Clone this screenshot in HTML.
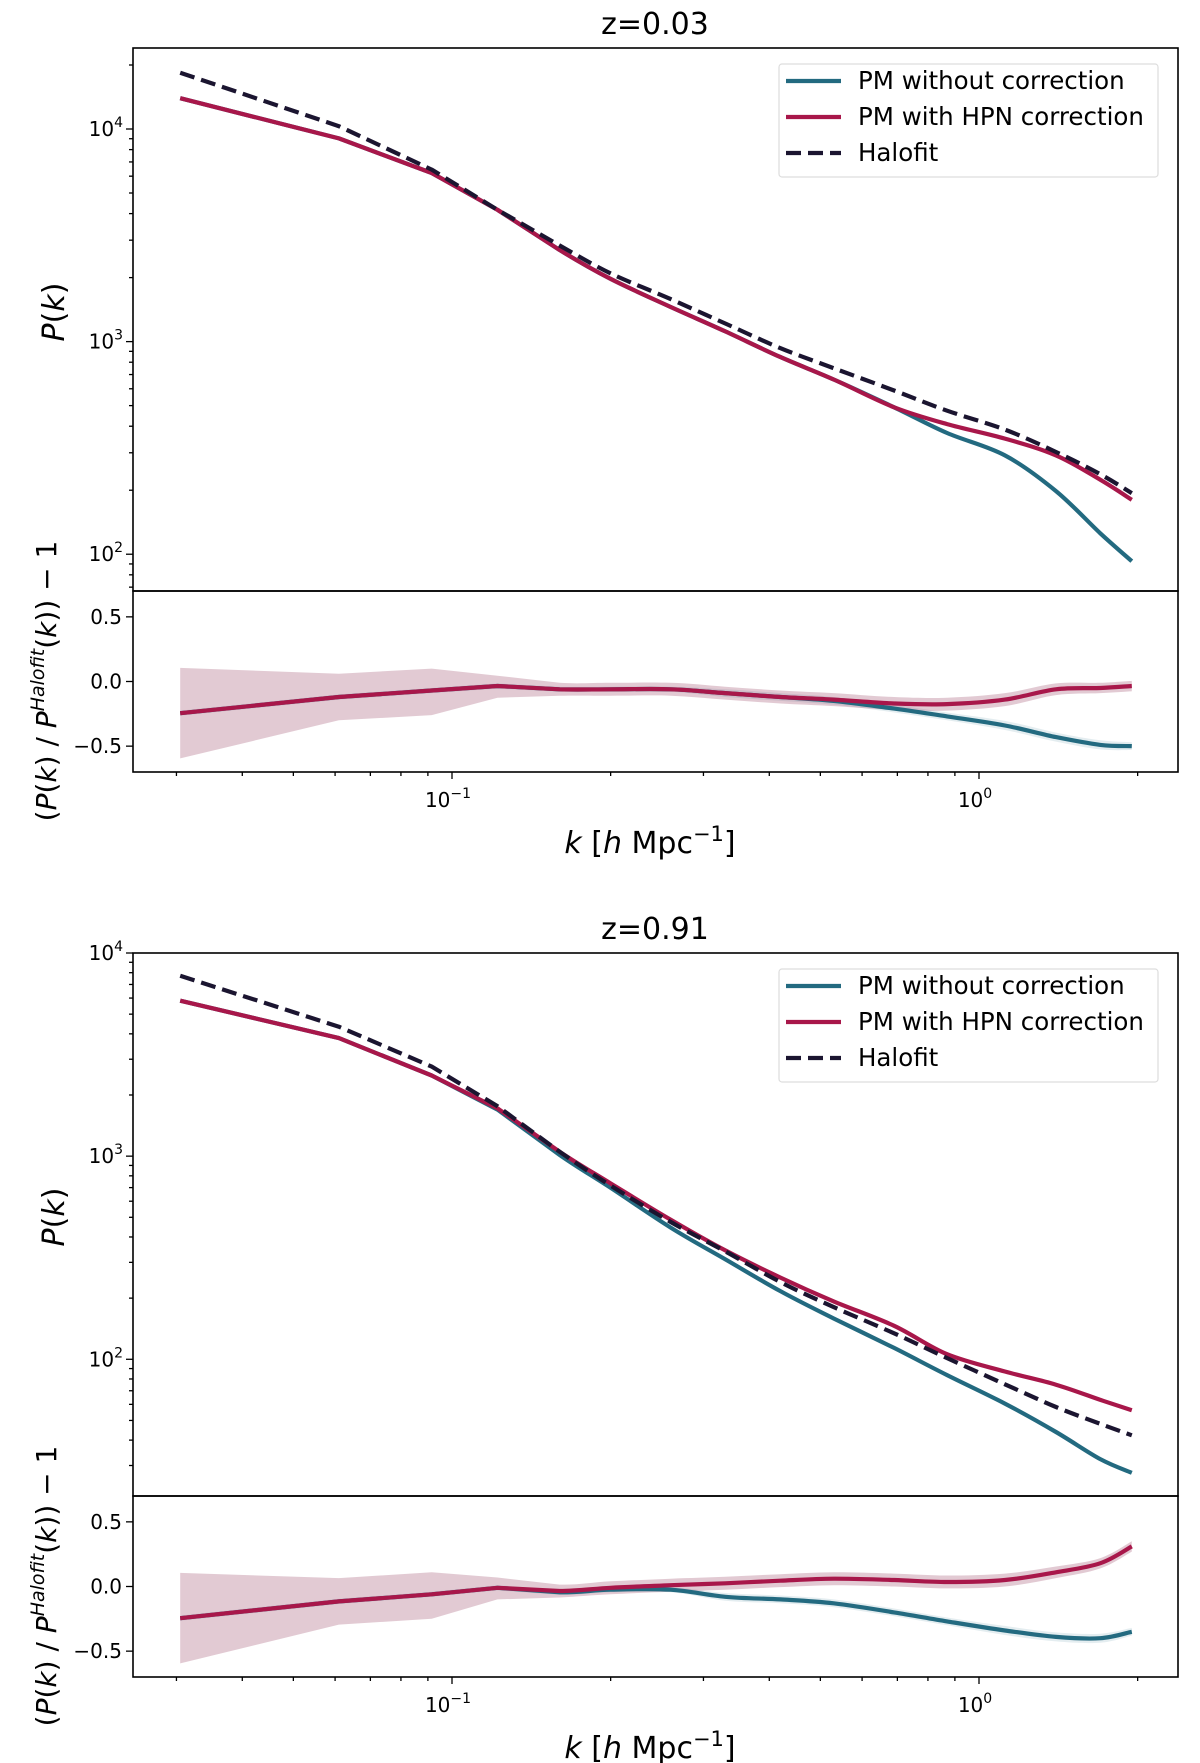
<!DOCTYPE html>
<html><head><meta charset="utf-8"><style>
html,body{margin:0;padding:0;background:#fff;}
svg{display:block;font-family:"DejaVu Sans","Liberation Sans",sans-serif;}
</style></head><body>
<svg id="fig" width="1200" height="1763" viewBox="0 0 1200 1763" xmlns="http://www.w3.org/2000/svg"></svg>
<script>
// shared k grid
const kValues = [0.0305,0.061,0.0915,0.122,0.16,0.2,0.26,0.33,0.42,0.53,0.69,0.87,1.12,1.4,1.7,1.95];
// panel 1 (z=0.03) : log10 P
const p1Halofit = [4.265,4.013,3.809,3.620,3.452,3.321,3.200,3.085,2.969,2.875,2.770,2.675,2.586,2.481,2.376,2.287];
const p1HPN = [4.145,3.956,3.793,3.620,3.431,3.295,3.163,3.048,2.927,2.822,2.691,2.612,2.544,2.465,2.350,2.256];
const p1PM = [4.145,3.956,3.793,3.620,3.431,3.295,3.163,3.048,2.927,2.822,2.691,2.570,2.465,2.297,2.098,1.967];
const r1HPN = [-0.245,-0.12,-0.07,-0.035,-0.06,-0.06,-0.06,-0.09,-0.12,-0.14,-0.17,-0.175,-0.14,-0.06,-0.05,-0.035];
const r1PM = [-0.245,-0.12,-0.07,-0.035,-0.06,-0.06,-0.06,-0.09,-0.12,-0.15,-0.21,-0.27,-0.34,-0.43,-0.49,-0.5];
// panel 2 (z=0.91)
const p2Halofit = [3.888,3.637,3.441,3.246,3.022,2.855,2.676,2.531,2.380,2.257,2.128,2.006,1.877,1.765,1.682,1.626];
const p2HPN = [3.765,3.581,3.397,3.235,3.022,2.866,2.687,2.536,2.402,2.285,2.165,2.025,1.940,1.875,1.800,1.749];
const p2PM = [3.765,3.581,3.397,3.229,3.006,2.844,2.648,2.492,2.335,2.201,2.056,1.922,1.782,1.642,1.508,1.441];
const r2HPN = [-0.245,-0.115,-0.06,-0.01,-0.035,-0.01,0.01,0.025,0.045,0.06,0.05,0.035,0.05,0.11,0.18,0.31];
const r2PM = [-0.245,-0.115,-0.06,-0.01,-0.045,-0.025,-0.025,-0.08,-0.1,-0.13,-0.2,-0.27,-0.34,-0.39,-0.4,-0.35];
// error band half-widths
const bandUp = [0.35,0.18,0.17,0.08,0.05,0.05,0.05,0.05,0.05,0.05,0.05,0.05,0.05,0.045,0.04,0.04];
const bandDown = [0.35,0.18,0.19,0.09,0.05,0.05,0.05,0.05,0.05,0.05,0.05,0.05,0.05,0.045,0.04,0.04];
const pmBand = [0.02,0.02,0.02,0.02,0.02,0.02,0.02,0.03,0.03,0.03,0.03,0.03,0.035,0.035,0.035,0.03];
const titles = ["z=0.03","z=0.91"];

const NS="http://www.w3.org/2000/svg";
const svg=document.getElementById('fig');
function el(tag,attrs,parent){const e=document.createElementNS(NS,tag);for(const a in attrs)e.setAttribute(a,attrs[a]);(parent||svg).appendChild(e);return e;}
const X0=133,X1=1178;
const xs=k=>452+527*(Math.log10(k)+1);
const TEAL="#236a80",RED="#a8174a",DARK="#1b1530";
const LIN_X = xs(0.125); // coarse-sampled low-k region drawn straight

// path through points: straight in low-k region, Catmull-Rom smoothing beyond
function smooth(pts, start){
  let d=(start?'M':'L')+pts[0][0].toFixed(1)+' '+pts[0][1].toFixed(1);
  for(let i=0;i<pts.length-1;i++){
    const p1=pts[i],p2=pts[i+1];
    if(Math.min(p1[0],p2[0])<LIN_X){d+=' L'+p2[0].toFixed(1)+' '+p2[1].toFixed(1);continue;}
    const p0=pts[Math.max(0,i-1)],p3=pts[Math.min(pts.length-1,i+2)];
    const c1=[p1[0]+(p2[0]-p0[0])/6,p1[1]+(p2[1]-p0[1])/6];
    const c2=[p2[0]-(p3[0]-p1[0])/6,p2[1]-(p3[1]-p1[1])/6];
    d+=' C'+c1[0].toFixed(1)+' '+c1[1].toFixed(1)+' '+c2[0].toFixed(1)+' '+c2[1].toFixed(1)+' '+p2[0].toFixed(1)+' '+p2[1].toFixed(1);
  }
  return d;
}

function panel(off, ylTop, ylBot, halo, hpn, pm, rh, rp, title, idx){
  const top=48+off, mb=591+off, rb=772+off;
  const ys=lp=>top+(ylTop-lp)/(ylTop-ylBot)*(mb-top);
  const yr=v=>top+543+ (0.7-v)/1.4*(rb-mb);
  const g=el('g',{});
  
  
  const t=el('text',{x:655,y:34+off,'font-size':30,'text-anchor':'middle',fill:'#000'},g);t.textContent=title;
  
  const cid='c'+idx, rid='r'+idx;
  const cp=el('clipPath',{id:cid},g);el('rect',{x:X0,y:top,width:X1-X0,height:mb-top},cp);
  const rp2=el('clipPath',{id:rid},g);el('rect',{x:X0,y:mb,width:X1-X0,height:rb-mb},rp2);
  const line=(arr,col,dash,name)=>{const d=smooth(arr.map((v,i)=>[xs(kValues[i]),ys(v)]),true);
    const p=el('path',{d:d,fill:'none',stroke:col,'stroke-width':4.2,'clip-path':'url(#'+cid+')','stroke-linejoin':'round'},g);
    if(dash)p.setAttribute('stroke-dasharray','15 7');
    };
  line(pm,TEAL,false,'pm-without-correction-line');
  line(hpn,RED,false,'pm-hpn-correction-line');
  line(halo,DARK,true,'halofit-line');
  const band=(arr,up,dn,col,op,name)=>{let d=smooth(arr.map((v,i)=>[xs(kValues[i]),yr(v+up[i])]),true);
    const lo=[];for(let i=arr.length-1;i>=0;i--)lo.push([xs(kValues[i]),yr(arr[i]-dn[i])]);
    d+=' '+smooth(lo,false);
    const p=el('path',{d:d+' Z',fill:col,'fill-opacity':op,'clip-path':'url(#'+rid+')'},g);
    };
  band(rp,pmBand,pmBand,TEAL,0.12,'pm-ratio-band');
  band(rh,bandUp,bandDown,'#8a2a50',0.25,'hpn-ratio-band');
  const rline=(arr,col,name)=>{const d=smooth(arr.map((v,i)=>[xs(kValues[i]),yr(v)]),true);
    const p=el('path',{d:d,fill:'none',stroke:col,'stroke-width':4.2,'clip-path':'url(#'+rid+')'},g);
    };
  rline(rp,TEAL,'pm-ratio-line');
  rline(rh,RED,'hpn-ratio-line');
  el('rect',{x:X0,y:top,width:X1-X0,height:mb-top,fill:'none',stroke:'#000','stroke-width':1.6},g);
  el('rect',{x:X0,y:mb,width:X1-X0,height:rb-mb,fill:'none',stroke:'#000','stroke-width':1.6},g);
  for(let dec=1;dec<=4;dec++){for(let m=1;m<=9;m++){const lp=dec+Math.log10(m);if(lp>ylTop+1e-6||lp<ylBot)continue;const y=ys(lp);
    el('line',{x1:X0,x2:X0-(m==1?7:4),y1:y,y2:y,stroke:'#000','stroke-width':1.3},g);
    if(m==1){const tx=el('text',{x:X0-10,y:y+7,'font-size':20,'text-anchor':'end'},g);tx.innerHTML='10<tspan font-size="14" dy="-9">'+dec+'</tspan>';
      }}}
  [0.5,0,-0.5].forEach(v=>{const y=yr(v);el('line',{x1:X0,x2:X0-7,y1:y,y2:y,stroke:'#000','stroke-width':1.3},g);
    const tx=el('text',{x:X0-11,y:y+7,'font-size':20,'text-anchor':'end'},g);tx.textContent=(v<0?'\u22120.5':v.toFixed(1));
    });
  [0.03,0.04,0.05,0.06,0.07,0.08,0.09,0.1,0.2,0.3,0.4,0.5,0.6,0.7,0.8,0.9,1,2].forEach(k=>{const x=xs(k);const maj=(k==0.1||k==1);
    el('line',{x1:x,x2:x,y1:rb,y2:rb+(maj?7:4),stroke:'#000','stroke-width':1.3},g);
    if(maj){const tx=el('text',{x:x-4,y:rb+35,'font-size':20,'text-anchor':'middle'},g);tx.innerHTML='10<tspan font-size="14" dy="-9">'+(k==1?'0':'\u22121')+'</tspan>';
      }});
  const xl=el('text',{x:650,y:rb+81,'font-size':30,'text-anchor':'middle'},g);
  xl.innerHTML='<tspan font-style="italic">k</tspan> [<tspan font-style="italic">h</tspan> Mpc<tspan font-size="21" dy="-12">\u22121</tspan><tspan dy="12">]</tspan>';
  
  const yl=el('text',{x:0,y:0,'font-size':30,'text-anchor':'middle',transform:'translate(64,'+(312+off)+') rotate(-90)'},g);
  yl.innerHTML='<tspan font-style="italic">P</tspan>(<tspan font-style="italic">k</tspan>)';
  
  const rl=el('text',{x:0,y:0,'font-size':28,'text-anchor':'middle',transform:'translate(56,'+(681+off)+') rotate(-90)'},g);
  rl.innerHTML='(<tspan font-style="italic">P</tspan>(<tspan font-style="italic">k</tspan>) / <tspan font-style="italic">P</tspan><tspan font-size="19" dy="-12" font-style="italic">Halofit</tspan><tspan dy="12">(</tspan><tspan font-style="italic">k</tspan>)) \u2212 1';
  
  const lg=el('g',{},g);
  el('rect',{x:779,y:64+off,width:379,height:113,rx:3,fill:'#fff',stroke:'#ddd','stroke-width':1.2},lg);
  [['PM without correction',TEAL,false],['PM with HPN correction',RED,false],['Halofit',DARK,true]].forEach((e,i)=>{
    const y=81+off+i*36;
    const ln=el('line',{x1:786,x2:841,y1:y,y2:y,stroke:e[1],'stroke-width':4.2},lg);if(e[2])ln.setAttribute('stroke-dasharray','15 7');
    const tx=el('text',{x:858,y:y+8,'font-size':24.5},lg);tx.textContent=e[0];
    });
}
panel(0,4.381,1.827,p1Halofit,p1HPN,p1PM,r1HPN,r1PM,titles[0],0);
panel(905,4.0,1.327,p2Halofit,p2HPN,p2PM,r2HPN,r2PM,titles[1],1);
</script>
</body></html>
